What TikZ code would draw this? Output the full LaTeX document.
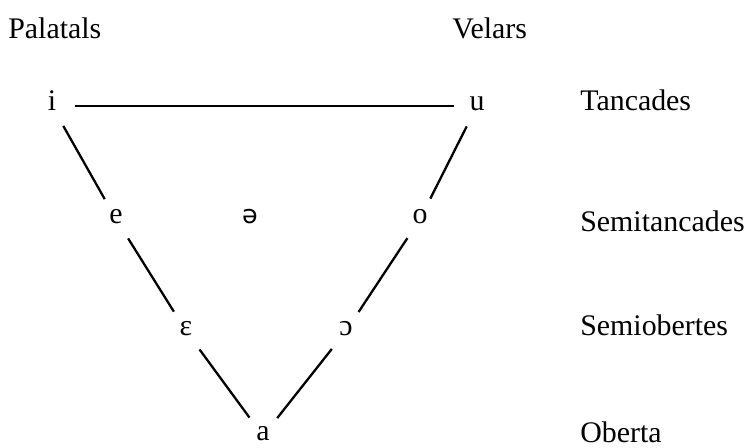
\documentclass[tikz,border=0pt]{standalone}
\usepackage{fontspec}
\setmainfont{Liberation Serif}
\newfontfamily\ipasans{DejaVu Sans}[Scale=0.85]
\usepackage{tikz}
\usetikzlibrary{positioning}

\begin{document}
\begin{tikzpicture}[every node/.style={font=\fontsize{17}{20}\selectfont},
  vowel/.style={circle, inner sep=0pt, minimum size=0.9cm,
                text height=1ex, text depth=0pt},
  level/.style={anchor=base west, inner sep=0pt},
  side/.style={line width=1.3pt}]
  \useasboundingbox (0,0) rectangle (15.02,-8.94);
  % Column headings
  \node[level] (pal) at (0.16,-0.76) {Palatals};
  \node[level] (vel) at (9.04,-0.76) {Velars};
  % Vowels
  \node[vowel] (i)  at (1.04,-2.12) {i};
  \node[vowel] (u)  at (9.54,-2.12) {u};
  \node[vowel] (e)  at (2.32,-4.38) {e};
  \node[vowel] (sw) at (5.00,-4.38) {\ipasans ə};
  \node[vowel] (o)  at (8.40,-4.38) {o};
  \node[vowel] (oe) at (3.72,-6.62) {ɛ};
  \node[vowel] (oo) at (6.92,-6.62) {ɔ};
  \node[vowel] (a)  at (5.26,-8.72) {a};
  % Row labels (right column)
  \node[level] (tanc) at (11.6,-2.20) {Tancades};
  \node[level] (stan) at (11.6,-4.62) {Semitancades};
  \node[level] (sobe) at (11.6,-6.70) {Semiobertes};
  \node[level] (ober) at (11.6,-8.84) {Oberta};
  % Triangle
  \draw[side] (i) -- (u);
  \draw[side] (i) -- (e);
  \draw[side] (e) -- (oe);
  \draw[side] (oe) -- (a);
  \draw[side] (u) -- (o);
  \draw[side] (o) -- (oo);
  \draw[side] (oo) -- (a);
\end{tikzpicture}
\end{document}
